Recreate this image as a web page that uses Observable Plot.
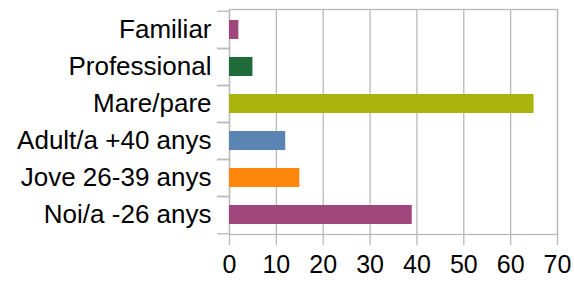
<!DOCTYPE html>
<html>
<head>
<meta charset="utf-8">
<script src="https://cdn.jsdelivr.net/npm/d3@7"></script>
<script src="https://cdn.jsdelivr.net/npm/@observablehq/plot@0.6"></script>
<style>
  html, body { margin: 0; padding: 0; background: #fff; }
  #chart svg { display: block; }
</style>
</head>
<body>
<div id="chart"></div>
<script>
const categories = ["Familiar", "Professional", "Mare/pare", "Adult/a +40 anys", "Jove 26-39 anys", "Noi/a -26 anys"];
const values = [2, 5, 65, 12, 15, 39];
const barColors = ["#a0467d", "#1f6b39", "#abb30f", "#5a84b1", "#ff860d", "#a0467d"];
const xTicks = [0, 10, 20, 30, 40, 50, 60, 70];

const data = categories.map((c, i) => ({category: c, value: values[i]}));

const width = 574, height = 282;
const marginTop = 9, marginBottom = 48, marginLeft = 229, marginRight = 17;
const step = (height - marginTop - marginBottom) / categories.length;
const grid = "#b9b9b9";

const chart = Plot.plot({
  width, height, marginTop, marginBottom, marginLeft, marginRight,
  style: {fontFamily: "'Liberation Sans', Arial, sans-serif", fontSize: "26px", color: "#000", background: "#fff"},
  x: {domain: [0, 70], ticks: xTicks},
  y: {domain: categories, paddingInner: 0.5, paddingOuter: 0.25},
  color: {domain: categories, range: barColors},
  marks: [
    Plot.gridX(xTicks, {stroke: grid, strokeOpacity: 1, strokeWidth: 1.3}),
    Plot.frame({stroke: grid, strokeWidth: 1.3}),
    Plot.barX(data, {y: "category", x: "value", fill: "category"}),
    Plot.axisX({ticks: xTicks, tickSize: 11, tickPadding: 10, stroke: grid, strokeWidth: 1.3, label: null, fontSize: 25, fill: "#000"}),
    Plot.axisY({tickSize: 0, tickPadding: 18, label: null, fontSize: 26, fill: "#000"}),
    Plot.axisY({tickSize: 12, text: null, dy: -step / 2, stroke: grid, strokeWidth: 1.3, label: null}),
    Plot.axisY({tickSize: 12, text: null, dy: step / 2, stroke: grid, strokeWidth: 1.3, label: null})
  ]
});
document.getElementById("chart").appendChild(chart);
</script>
</body>
</html>
